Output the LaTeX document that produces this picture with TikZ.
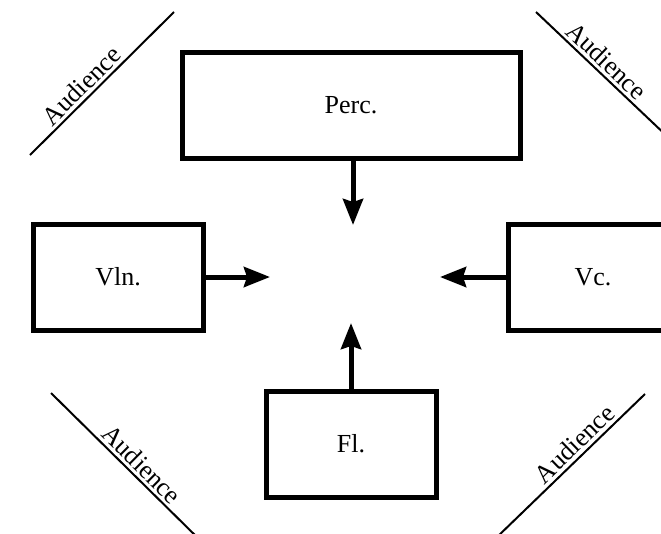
\documentclass[tikz,border=0pt]{standalone}
\usepackage{fontspec}
\setmainfont{Liberation Serif}
\usetikzlibrary{arrows.meta}

\begin{document}
\begin{tikzpicture}[x=1pt,y=-1pt,
  instrument/.style={draw, line width=5pt, minimum width=170pt, minimum height=106pt,
    inner sep=0pt, font=\fontsize{26}{31}\selectfont},
  feed/.style={line width=5pt, -{Stealth[length=26pt,width=20pt,inset=3pt]}},
  edge/.style={line width=2pt},
  aud/.style={sloped, above, inner sep=3pt, font=\fontsize{26}{31}\selectfont}]
  \useasboundingbox (0,0) rectangle (661,533);
  \clip (0,0) rectangle (661,533);

  % performers
  \node[instrument, minimum width=338pt] (perc) at (351,105) {Perc.};
  \node[instrument] (vln) at (118,277) {Vln.};
  \node[instrument] (vc) at (593,277) {Vc.};
  \node[instrument] (fl) at (351,444) {Fl.};

  % arrow targets around the empty centre
  \coordinate (cn) at (353,225);
  \coordinate (cw) at (270,277);
  \coordinate (ce) at (440,277);
  \coordinate (cs) at (351,323);

  \draw[feed] (perc.south -| cn) -- (cn);
  \draw[feed] (vln.east) -- (cw);
  \draw[feed] (vc.west) -- (ce);
  \draw[feed] (fl.north) -- (cs);

  % audience edges in the corners
  \coordinate (tl1) at (30,155);  \coordinate (tl2) at (174,12);
  \coordinate (tr1) at (536,12);  \coordinate (tr2) at (690,158);
  \coordinate (bl1) at (51,393);  \coordinate (bl2) at (205,545);
  \coordinate (br1) at (495,539); \coordinate (br2) at (645,394);

  \draw[edge] (tl1) -- node[aud, pos=0.42] (atl) {Audience} (tl2);
  \draw[edge] (tr1) -- node[aud, pos=0.40] (atr) {Audience} (tr2);
  \draw[edge] (bl1) -- node[aud, pos=0.53] (abl) {Audience} (bl2);
  \draw[edge] (br1) -- node[aud, pos=0.59] (abr) {Audience} (br2);
\end{tikzpicture}
\end{document}
